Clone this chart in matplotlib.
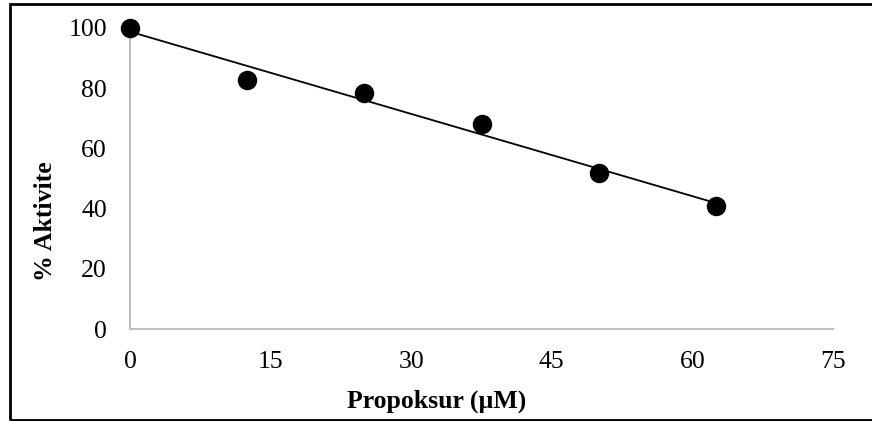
import numpy as np
import matplotlib
matplotlib.use("Agg")
import matplotlib.pyplot as plt
from matplotlib.patches import Rectangle

# Data
concentration = [0, 12.5, 25, 37.5, 50, 62.5]
activity = [100, 82.7, 78.4, 68.1, 51.8, 40.9]
x_ticks = [0, 15, 30, 45, 60, 75]
y_ticks = [0, 20, 40, 60, 80, 100]
x_label = "Propoksur (µM)"
y_label = "% Aktivite"

plt.rcParams['font.family'] = ['Liberation Serif', 'DejaVu Serif']

W, H = 872, 421
FS = 18.5
fig = plt.figure(figsize=(W / 100, H / 100), dpi=100)
ax = fig.add_axes([130 / W, 1 - 329 / H, (833 - 130) / W, (329 - 28) / H])

# Trendline (linear fit)
slope, intercept = np.polyfit(concentration, activity, 1)
xs = np.array([min(concentration), max(concentration)])
ax.plot(xs, slope * xs + intercept, color='black', lw=1.3, zorder=2)

ax.plot(concentration, activity, 'o', color='black', markersize=13,
        clip_on=False, zorder=3)

ax.set_xlim(0, 75)
ax.set_ylim(0, 100)
ax.set_xticks(x_ticks)
ax.set_yticks(y_ticks)
ax.tick_params(axis='both', length=0, labelsize=FS)
ax.tick_params(axis='x', pad=16)
ax.tick_params(axis='y', pad=16.5)
for s in ['top', 'right']:
    ax.spines[s].set_visible(False)
for s in ['left', 'bottom']:
    ax.spines[s].set_color('#BFBFBF')
    ax.spines[s].set_linewidth(1.5)

fig.text(437 / W, 1 - 401 / H, x_label, ha='center', va='center',
         fontsize=FS, fontweight='bold')
fig.text(45 / W, 1 - 221 / H, y_label, ha='center', va='center',
         fontsize=FS, fontweight='bold', rotation=90)

# Figure border
fig.patches.append(Rectangle((10 / W, 1 - 420 / H), W / W, (420 - 4) / H,
                             transform=fig.transFigure, fill=False,
                             edgecolor='black', lw=2, zorder=10))

fig.savefig("out.png", dpi=100)
